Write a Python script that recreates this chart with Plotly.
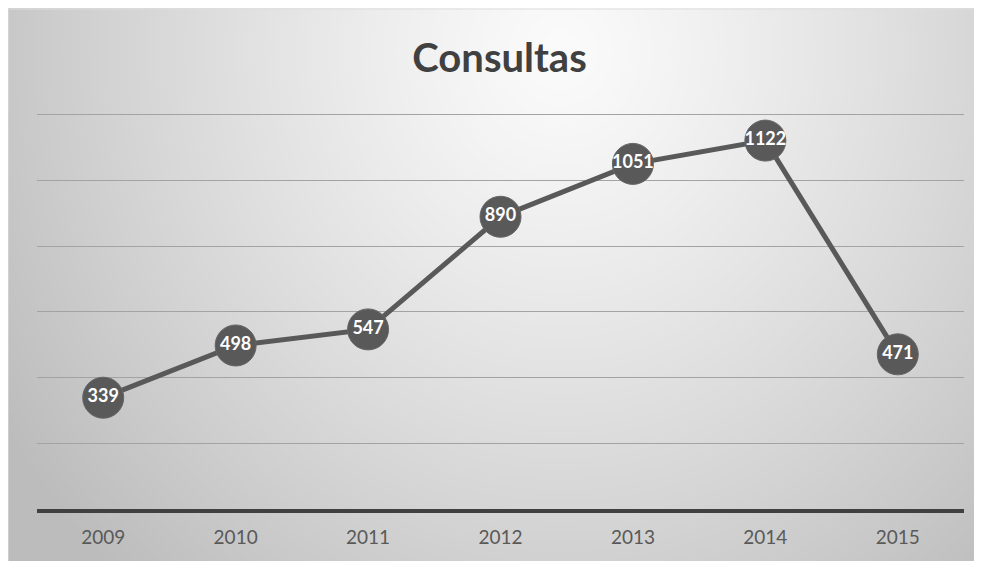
import base64, struct, zlib
import numpy as np
import plotly.graph_objects as go

years = ["2009", "2010", "2011", "2012", "2013", "2014", "2015"]
consultas = [339, 498, 547, 890, 1051, 1122, 471]
title_text = "Consultas"

# figure geometry (figure pixels; the page places the figure 8px in)
W, H = 982, 561
L, R, T, B = 29, 26, 105, 60
pw, ph = W - L - R, H - T - B


def to_px(x):
    return (x - L) / pw


def to_py(y):
    return (H - B - y) / ph


def make_png(arr):
    h, w, _ = arr.shape
    raw = b"".join(b"\x00" + arr[i].tobytes() for i in range(h))

    def chunk(tag, data):
        c = struct.pack(">I", len(data)) + tag + data
        return c + struct.pack(">I", zlib.crc32(tag + data) & 0xFFFFFFFF)

    return (b"\x89PNG\r\n\x1a\n"
            + chunk(b"IHDR", struct.pack(">IIBBBBB", w, h, 8, 2, 0, 0, 0))
            + chunk(b"IDAT", zlib.compress(raw, 9))
            + chunk(b"IEND", b""))


# radial background gradient (half resolution, stretched)
s = 2
gw, gh = W // s, H // s
yy, xx = np.mgrid[0:gh, 0:gw] * s
dx = (xx - 552) / 600.0
dy = (yy - 42) / 650.0
d = np.sqrt(dx ** 2 + dy ** 2)
v = np.clip(251 - 56 * d ** 1.2, 188, 255).astype(np.uint8)
img = np.stack([v, v, v], axis=-1)
src = "data:image/png;base64," + base64.b64encode(make_png(img)).decode()

fig = go.Figure()
fig.add_trace(go.Scatter(
    x=years, y=consultas, mode="lines+markers+text",
    text=[str(v) for v in consultas], textposition="middle center",
    textfont=dict(family="Lato", size=18, color="white", weight="bold"),
    line=dict(color="#595959", width=5),
    marker=dict(size=41, color="#595959", line=dict(color="#656565", width=1)),
    cliponaxis=False, hoverinfo="skip", showlegend=False,
))

fig.add_layout_image(dict(
    source=src, xref="paper", yref="paper",
    x=to_px(0), y=to_py(0), sizex=W / pw, sizey=H / ph,
    xanchor="left", yanchor="top", sizing="stretch", layer="below",
))
fig.add_shape(type="rect", xref="paper", yref="paper",
              x0=to_px(0), x1=to_px(W + 5), y0=to_py(H + 5), y1=to_py(1),
              line=dict(color="#dedede", width=1), layer="below")

fig.update_layout(
    width=W, height=H,
    margin=dict(l=L, r=R, t=T, b=B),
    paper_bgcolor="white", plot_bgcolor="rgba(0,0,0,0)",
    title=dict(text=title_text, x=to_px(493), xanchor="center",
               y=1 - 50 / H, yanchor="middle",
               font=dict(family="Lato", size=40, color="#404040", weight="bold")),
    xaxis=dict(type="category", range=[-0.5, 6.5], showgrid=False,
               showline=True, linecolor="#404040", linewidth=4,
               ticks="", ticklabelstandoff=8,
               tickfont=dict(family="Lato", size=19, color="#595959"),
               fixedrange=True),
    yaxis=dict(range=[0, 1206], tickvals=[200, 400, 600, 800, 1000, 1200],
               showgrid=True, gridcolor="#a3a3a3",
               gridwidth=1, zeroline=False, showticklabels=False, ticks="",
               fixedrange=True),
)

fig.write_html("out.html")
